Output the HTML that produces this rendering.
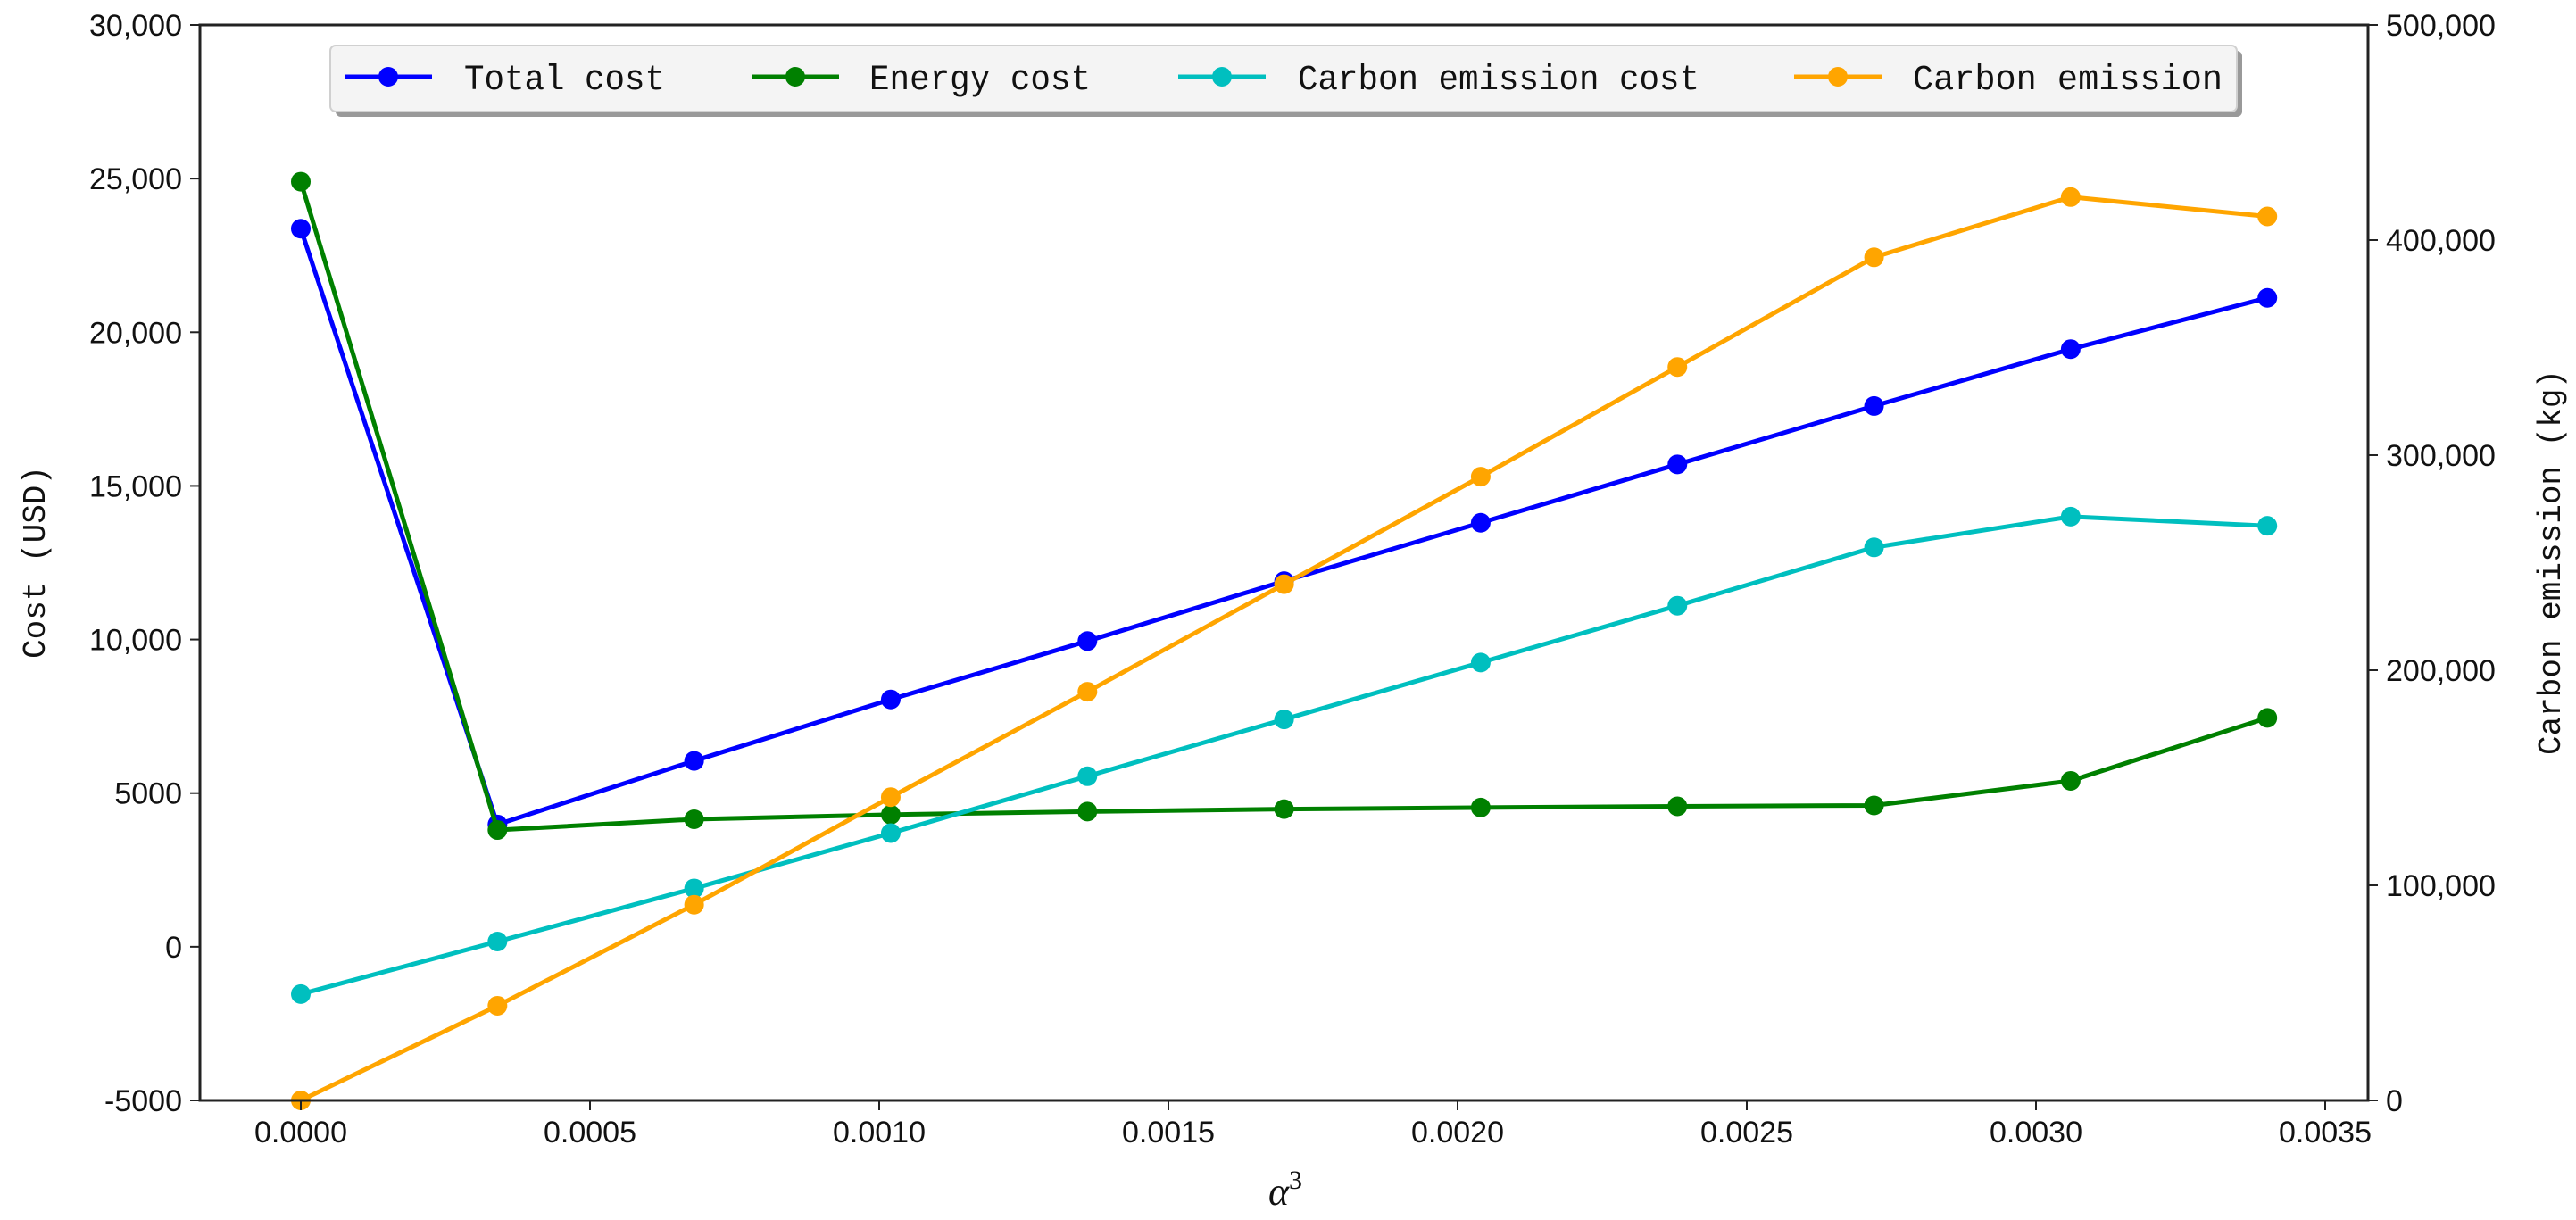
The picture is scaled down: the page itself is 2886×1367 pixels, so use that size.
<!DOCTYPE html>
<html><head><meta charset="utf-8"><style>
html,body{margin:0;padding:0;background:#fff;}
svg{display:block;}
text{font-family:"Liberation Sans","Noto Sans CJK SC",sans-serif;fill:#111;}
</style></head><body>
<svg id="chart" width="2886" height="1367" viewBox="0 0 2886 1367" xmlns="http://www.w3.org/2000/svg">
<g id="grid"></g>
<g id="series"></g>
<g id="axes"></g>
<g id="legend"></g>
</svg>
<script>
const alphaValues = [0, 0.00034, 0.00068, 0.00102, 0.00136, 0.0017, 0.00204, 0.00238, 0.00272, 0.00306, 0.0034];
const totalCost = [23370, 3980, 6050, 8050, 9950, 11900, 13800, 15700, 17600, 19450, 21120];
const energyCost = [24900, 3800, 4150, 4300, 4400, 4480, 4530, 4570, 4600, 5400, 7450];
const carbonCost = [-1540, 170, 1900, 3700, 5550, 7400, 9250, 11100, 13000, 14000, 13700];
const carbonEmission = [0, 44000, 91000, 141000, 190000, 240000, 290000, 341000, 392000, 420000, 411000];
const xTicks = [0, 0.0005, 0.001, 0.0015, 0.002, 0.0025, 0.003, 0.0035];
const xTickLabels = ["0.0000","0.0005","0.0010","0.0015","0.0020","0.0025","0.0030","0.0035"];
const leftTicks = [-5000, 0, 5000, 10000, 15000, 20000, 25000, 30000];
const leftTickLabels = ["-5000","0","5000","10,000","15,000","20,000","25,000","30,000"];
const rightTicks = [0, 100000, 200000, 300000, 400000, 500000];
const rightTickLabels = ["0","100,000","200,000","300,000","400,000","500,000"];

const NS = "http://www.w3.org/2000/svg";
const L = 224, R = 2653, T = 28, B = 1233;
const X0 = 337, XPX = 324 / 0.0005;
const xs = v => X0 + v * XPX;
const yl = v => B - (v + 5000) / 35000 * (B - T);
const yr = v => B - v / 500000 * (B - T);
function mk(tag, attrs, parent) {
  const e = document.createElementNS(NS, tag);
  for (const k in attrs) e.setAttribute(k, attrs[k]);
  parent.appendChild(e);
  return e;
}
const axes = document.getElementById('axes');
const series = document.getElementById('series');
const legend = document.getElementById('legend');

// frame
const frame = mk('rect', {x: L, y: T, width: R - L, height: B - T, fill: 'none', stroke: '#222', 'stroke-width': 3}, axes);



xTicks.forEach((t, i) => {
  const x = xs(t);
  const tk = mk('line', {x1: x, x2: x, y1: B, y2: B + 11, stroke: '#222', 'stroke-width': 2}, axes);
  
  
  const tx = mk('text', {x: x, y: B + 47, 'font-size': 34, 'text-anchor': 'middle'}, axes);
  tx.textContent = xTickLabels[i];
  
  
});
leftTicks.forEach((t, i) => {
  const y = yl(t);
  const tk = mk('line', {x1: L - 11, x2: L, y1: y, y2: y, stroke: '#222', 'stroke-width': 2}, axes);
  
  
  const tx = mk('text', {x: L - 20, y: y + 12, 'font-size': 34, 'text-anchor': 'end'}, axes);
  tx.textContent = leftTickLabels[i];
  
  
});
rightTicks.forEach((t, i) => {
  const y = yr(t);
  const tk = mk('line', {x1: R, x2: R + 11, y1: y, y2: y, stroke: '#222', 'stroke-width': 2}, axes);
  
  
  const tx = mk('text', {x: R + 20, y: y + 12, 'font-size': 34, 'text-anchor': 'start'}, axes);
  tx.textContent = rightTickLabels[i];
  
  
});

const yTitle = mk('text', {x: 0, y: 0, 'font-size': 36, 'text-anchor': 'middle', transform: 'translate(50,630) rotate(-90)', style: 'font-family:"Liberation Mono",monospace'}, axes);
yTitle.textContent = 'Cost (USD)';


const y2Title = mk('text', {x: 0, y: 0, 'font-size': 36, 'text-anchor': 'middle', transform: 'translate(2868,630) rotate(-90)', style: 'font-family:"Liberation Mono",monospace'}, axes);
y2Title.textContent = 'Carbon emission (kg)';


const xTitle = mk('text', {x: 1440, y: 1350, 'font-size': 44, 'text-anchor': 'middle', style: 'font-family:"Liberation Serif",serif;font-style:italic'}, axes);
xTitle.innerHTML = 'α<tspan dy="-18" font-size="30" font-style="normal">3</tspan>';



function drawSeries(vals, yf, color, name) {
  const g = mk('g', {}, series);
  
  
  const pts = vals.map((v, i) => xs(alphaValues[i]) + ',' + yf(v)).join(' ');
  const pl = mk('polyline', {points: pts, fill: 'none', stroke: color, 'stroke-width': 5, 'stroke-linejoin': 'round'}, g);
  
  
  vals.forEach((v, i) => {
    const c = mk('circle', {cx: xs(alphaValues[i]), cy: yf(v), r: 11, fill: color}, g);
    
    
  });
}
drawSeries(totalCost, yl, '#0000ff', 'total-cost');
drawSeries(energyCost, yl, '#008000', 'energy-cost');
drawSeries(carbonCost, yl, '#00bfbf', 'carbon-emission-cost');
drawSeries(carbonEmission, yr, '#ffa500', 'carbon-emission');

// legend
const lg = mk('g', {}, legend);


const sh = mk('rect', {x: 376, y: 57, width: 2136, height: 74, rx: 6, fill: '#999'}, lg);


const box = mk('rect', {x: 370, y: 51, width: 2136, height: 74, rx: 6, fill: '#f4f4f4', stroke: '#d0d0d0', 'stroke-width': 2}, lg);


const items = [
  ['Total cost', '#0000ff', 386, 520, 225, 'legend-entry-total-cost'],
  ['Energy cost', '#008000', 842, 974, 248, 'legend-entry-energy-cost'],
  ['Carbon emission cost', '#00bfbf', 1320, 1454, 450, 'legend-entry-carbon-emission-cost'],
  ['Carbon emission', '#ffa500', 2010, 2143, 347, 'legend-entry-carbon-emission']
];
items.forEach(it => {
  const g = mk('g', {}, lg);
  
  
  mk('line', {x1: it[2], x2: it[2] + 98, y1: 86, y2: 86, stroke: it[1], 'stroke-width': 5}, g);
  mk('circle', {cx: it[2] + 49, cy: 86, r: 11, fill: it[1]}, g);
  const t = mk('text', {x: it[3], y: 100, 'font-size': 40, textLength: it[4], lengthAdjust: 'spacingAndGlyphs', style: 'font-family:"Liberation Mono",monospace'}, g);
  t.textContent = it[0];
});
</script>
</body></html>
